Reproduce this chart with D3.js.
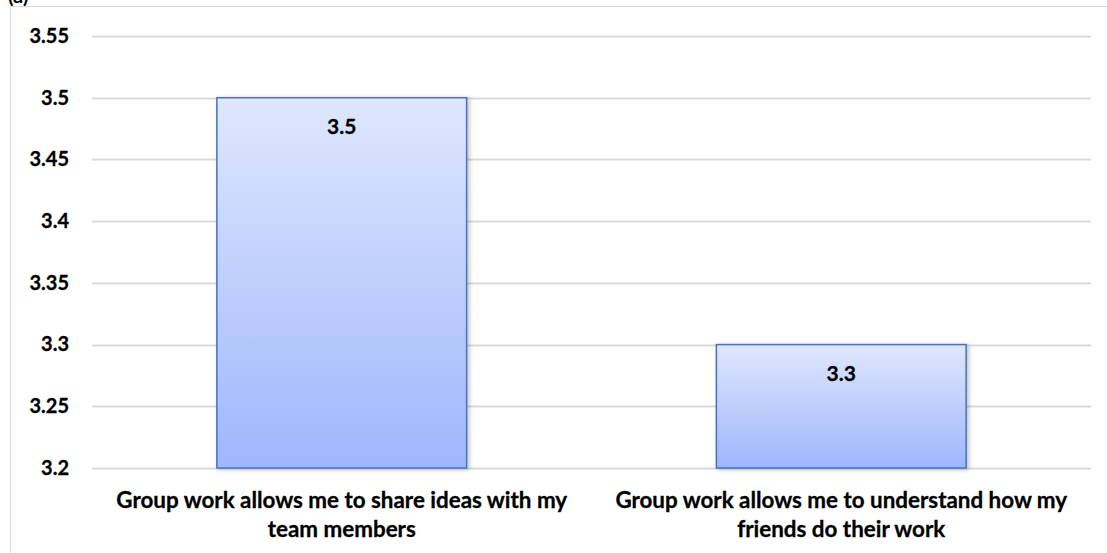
<!DOCTYPE html>
<html>
<head>
<meta charset="utf-8">
<script src="https://cdn.jsdelivr.net/npm/d3@7"></script>
<style>
  body { margin: 0; background: #fff; }
  svg { display: block; }
  text { font-family: Lato, "Open Sans", sans-serif; font-weight: bold; fill: #000; }
</style>
</head>
<body>
<div id="chart"></div>
<script>
var categories = [
    "Group work allows me to share ideas with my team members",
    "Group work allows me to understand how my friends do their work"
];
var labelLines = [
    ["Group work allows me to share ideas with my", "team members"],
    ["Group work allows me to understand how my", "friends do their work"]
];
var values = [3.5, 3.3];
var yTicks = [3.2, 3.25, 3.3, 3.35, 3.4, 3.45, 3.5, 3.55];

var width = 1107, height = 553;
var margin = {top: 36, right: 16, bottom: 85, left: 92};
var innerWidth = width - margin.left - margin.right;
var innerHeight = height - margin.top - margin.bottom;

var svg = d3.select("#chart").append("svg")
    .attr("width", width)
    .attr("height", height);

var defs = svg.append("defs");
var grad = defs.append("linearGradient")
    .attr("id", "barGrad")
    .attr("x1", 0).attr("y1", 0).attr("x2", 0).attr("y2", 1);
grad.append("stop").attr("offset", "0%").attr("stop-color", "#dfe7fd");
grad.append("stop").attr("offset", "100%").attr("stop-color", "#9eb6fc");

var shadow = defs.append("filter").attr("id", "shadow")
    .attr("x", "-5%").attr("y", "-5%").attr("width", "115%").attr("height", "115%");
shadow.append("feDropShadow")
    .attr("dx", 2).attr("dy", 1).attr("stdDeviation", 2)
    .attr("flood-color", "#000").attr("flood-opacity", 0.25);

// chart frame
svg.append("rect")
    .attr("x", 10.5).attr("y", 6.5)
    .attr("width", width).attr("height", height)
    .attr("fill", "none").attr("stroke", "#d9d9d9");

svg.append("text")
    .attr("x", 8).attr("y", 3)
    .style("font-size", "20px")
    .text("(a)");

var g = svg.append("g")
    .attr("transform", "translate(" + margin.left + "," + margin.top + ")");

var xScale = d3.scaleBand()
    .domain(categories)
    .range([0, innerWidth])
    .paddingInner(0.5)
    .paddingOuter(0.25);

var yScale = d3.scaleLinear()
    .domain([3.2, 3.55])
    .range([innerHeight, 0]);

// gridlines
g.append("g")
    .selectAll("line")
    .data(yTicks)
    .enter()
    .append("line")
    .attr("x1", 0)
    .attr("x2", innerWidth)
    .attr("y1", d => Math.round(yScale(d)) + 0.5)
    .attr("y2", d => Math.round(yScale(d)) + 0.5)
    .attr("stroke", "#d9d9d9")
    .attr("stroke-width", 2);

// y axis labels
var yAxis = d3.axisLeft(yScale)
    .tickValues(yTicks)
    .tickFormat(d3.format("~g"))
    .tickSize(0)
    .tickPadding(23);

g.append("g")
    .call(yAxis)
    .call(a => a.select(".domain").remove())
    .selectAll("text")
    .style("font-size", "20px")
    .style("font-family", "Lato, sans-serif")
    .style("font-weight", "bold")
    .attr("fill", "#000")
    .attr("stroke", "#000")
    .attr("stroke-width", 0.3);

// bars
g.append("g")
    .selectAll("rect")
    .data(values)
    .enter()
    .append("rect")
    .attr("x", (d, i) => xScale(categories[i]))
    .attr("y", d => yScale(d))
    .attr("width", xScale.bandwidth())
    .attr("height", d => yScale(3.2) - yScale(d))
    .attr("fill", "url(#barGrad)")
    .attr("stroke", "#4472c4")
    .attr("stroke-width", 1.5)
    .attr("filter", "url(#shadow)");

// value labels
g.append("g")
    .selectAll("text")
    .data(values)
    .enter()
    .append("text")
    .attr("x", (d, i) => xScale(categories[i]) + xScale.bandwidth() / 2)
    .attr("y", d => yScale(d) + 36)
    .attr("text-anchor", "middle")
    .attr("stroke", "#000")
    .attr("stroke-width", 0.3)
    .style("font-size", "21px")
    .text(d => d3.format(".1f")(d));

// category labels
var catLabels = g.append("g")
    .selectAll("text")
    .data(categories)
    .enter()
    .append("text")
    .attr("x", d => xScale(d) + xScale.bandwidth() / 2)
    .attr("y", innerHeight + 40)
    .attr("text-anchor", "middle")
    .attr("stroke", "#000")
    .attr("stroke-width", 0.3)
    .style("font-size", "22.4px");

catLabels.each(function(d, i) {
    var t = d3.select(this);
    labelLines[i].forEach(function(line, j) {
        t.append("tspan")
            .attr("x", xScale(d) + xScale.bandwidth() / 2)
            .attr("dy", j == 0 ? 0 : 29)
            .text(line);
    });
});
</script>
</body>
</html>
